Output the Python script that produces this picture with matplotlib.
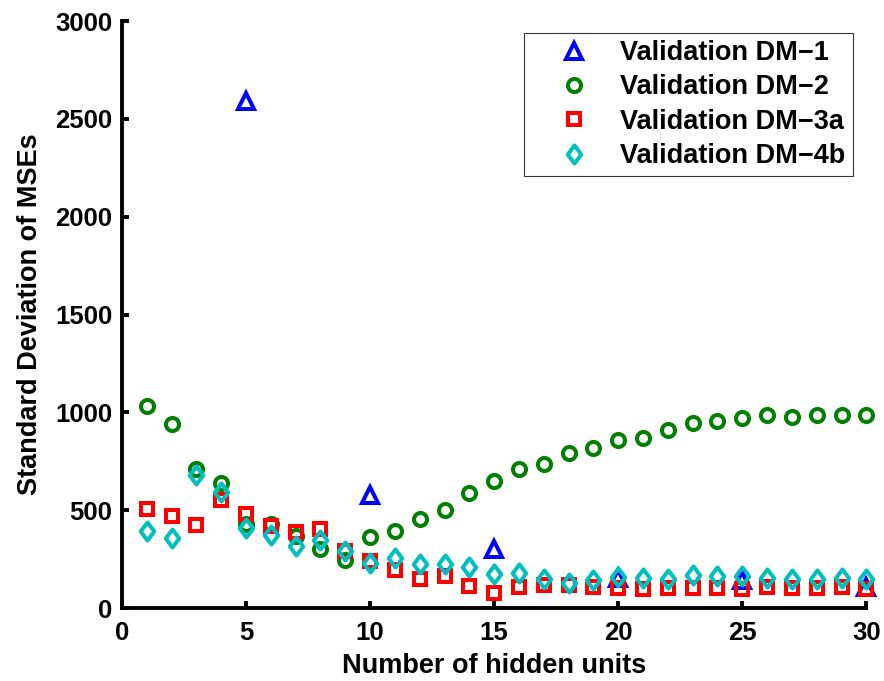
import matplotlib.pyplot as plt
import numpy as np
from matplotlib.path import Path

plt.rcParams['font.family'] = ['Liberation Sans', 'DejaVu Sans']
plt.rcParams['font.weight'] = 'bold'

hidden = np.arange(1, 31)

# DM-1 was only evaluated every 5 hidden units
dm1_x = [5, 10, 15, 20, 25, 30]
dm1_std = [2590, 580, 300, 155, 145, 108]

dm2_std = [1035, 940, 712, 637, 430, 430, 371, 300, 245, 361,
           392, 453, 501, 589, 651, 712, 736, 794, 819, 858,
           872, 910, 944, 957, 974, 988, 978, 985, 985, 988]

dm3a_std = [506, 473, 427, 552, 479, 421, 387, 404, 293, 242,
            194, 147, 163, 112, 75, 109, 119, 119, 109, 101,
            100, 103, 103, 103, 100, 106, 103, 103, 106, 100]

dm4b_std = [395, 359, 681, 594, 409, 373, 317, 347, 293, 232,
            255, 228, 225, 211, 174, 177, 150, 129, 143, 160,
            153, 147, 169, 164, 164, 152, 147, 147, 152, 150]

# MATLAB-style diamond (a bit taller than wide)
diamond = Path([(0, 1), (0.75, 0), (0, -1), (-0.75, 0), (0, 1)],
               [Path.MOVETO, Path.LINETO, Path.LINETO, Path.LINETO, Path.CLOSEPOLY])

fig = plt.figure(figsize=(8.84, 6.81), dpi=100)
ax = fig.add_axes([0.138, 0.107, 0.842, 0.862])

mk = dict(linestyle='none', markerfacecolor='none', markeredgewidth=2.9, clip_on=False)
ax.plot(dm1_x, dm1_std, marker='^', markersize=11, color='#0000ff',
        label='Validation DM\u22121', **mk)
ax.plot(hidden, dm2_std, marker='o', markersize=9.4, color='#008000',
        label='Validation DM\u22122', **mk)
ax.plot(hidden, dm3a_std, marker='s', markersize=8.3, color='#ff0000',
        label='Validation DM\u22123a', **mk)
ax.plot(hidden, dm4b_std, marker=diamond, markersize=13, color='#00bfbf',
        label='Validation DM\u22124b', **mk)

ax.set_xlim(0, 30)
ax.set_ylim(0, 3000)
ax.set_xticks([0, 5, 10, 15, 20, 25, 30])
ax.set_yticks([0, 500, 1000, 1500, 2000, 2500, 3000])

for side in ['top', 'right']:
    ax.spines[side].set_visible(False)
for side in ['left', 'bottom']:
    ax.spines[side].set_linewidth(2.8)
ax.tick_params(direction='in', length=5, width=2.8, labelsize=18.5)
ax.tick_params(axis='x', pad=9)
ax.tick_params(axis='y', pad=7)
for lbl in ax.get_xticklabels() + ax.get_yticklabels():
    lbl.set_fontweight('bold')

ax.set_xlabel('Number of hidden units', fontsize=19.5, fontweight='bold', labelpad=6)
ax.set_ylabel('Standard Deviation of MSEs', fontsize=19.5, fontweight='bold', labelpad=9)

leg = ax.legend(loc='upper left', bbox_to_anchor=(524 / 884, 1 - 33 / 681),
                bbox_transform=fig.transFigure, borderaxespad=0, fontsize=19.5,
                frameon=True, fancybox=False, edgecolor='black', numpoints=1,
                handletextpad=0.1, borderpad=0.26, labelspacing=0.31, handlelength=3.2)
leg.get_frame().set_linewidth(0.8)
for t in leg.get_texts():
    t.set_fontweight('bold')

fig.savefig('out.png', dpi=100)
